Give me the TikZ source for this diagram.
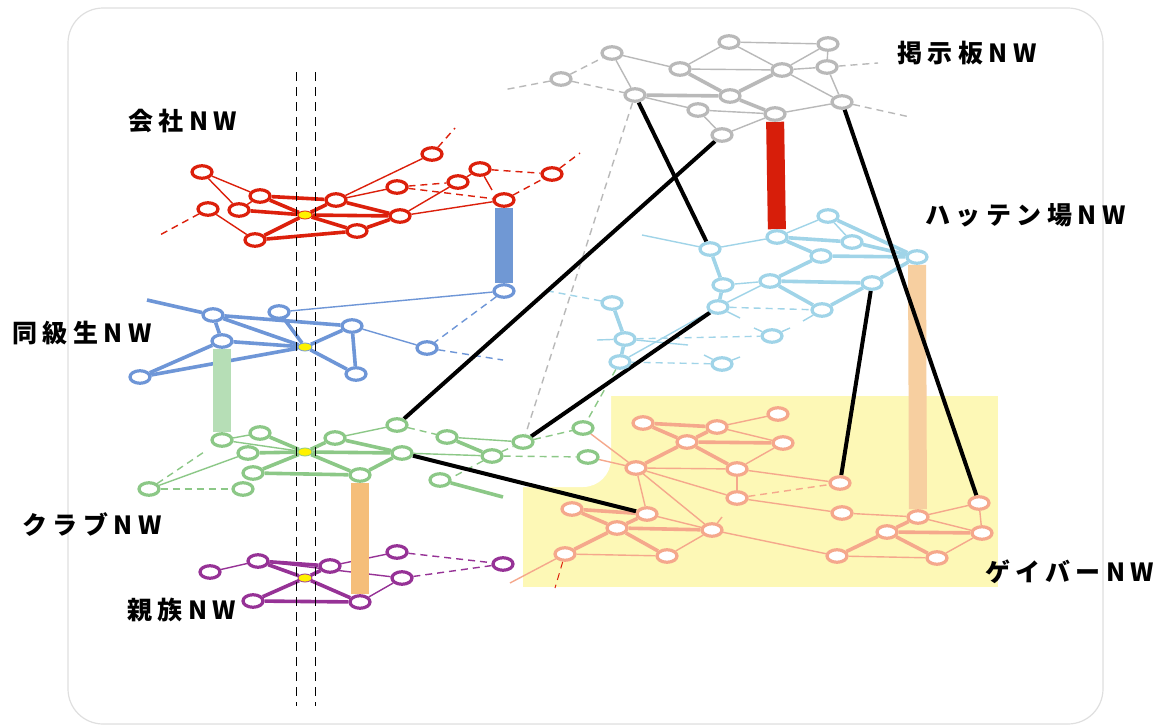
\documentclass[tikz,border=0pt]{standalone}
\usepackage{fontspec}
\usetikzlibrary{shapes.geometric}
\newfontfamily\jp{Noto Sans CJK JP}[LetterSpace=22]
\definecolor{cRed}{RGB}{220,32,12}
\definecolor{cBlue}{RGB}{110,150,215}
\definecolor{cGreen}{RGB}{140,200,135}
\definecolor{cPurple}{RGB}{150,50,150}
\definecolor{cGray}{RGB}{185,185,185}
\definecolor{cCyan}{RGB}{160,212,232}
\definecolor{cSalmon}{RGB}{245,168,140}
\definecolor{cYellow}{RGB}{253,248,182}
\definecolor{pBlue}{RGB}{112,152,212}
\definecolor{pGreen}{RGB}{182,222,182}
\definecolor{pOrange}{RGB}{245,190,122}
\definecolor{pRed}{RGB}{215,30,10}
\definecolor{pPeach}{RGB}{247,207,160}
\pgfdeclarelayer{back}
\pgfdeclarelayer{links}
\pgfsetlayers{back,links,main}
\tikzset{
  nd/.style={ellipse, draw=#1, fill=white, line width=3.2pt,
    minimum width=20pt, minimum height=12.5pt, inner sep=0pt},
  ctr/.style={ellipse, fill=yellow, draw=#1, line width=0.8pt,
    minimum width=14pt, minimum height=8pt, inner sep=0pt},
  thk/.style={line width=3.6pt},
  thn/.style={line width=1.4pt},
  dsh/.style={line width=1.4pt, dash pattern=on 7pt off 5pt},
  blk/.style={line width=4pt, black},
  pillar/.style={line width=18pt, draw=#1},
  lbl/.style={font=\jp\bfseries\fontsize{25}{29}\selectfont, anchor=west, inner sep=0pt},
}
\begin{document}
\begin{tikzpicture}[x=1pt, y=-1pt]
\useasboundingbox (0,0) rectangle (1163,726);

% frame and yellow area
\begin{pgfonlayer}{back}
  \draw[gray!25, line width=1.2pt, fill=white, rounded corners=35pt] (68,8) rectangle (1103,724);
  \fill[cYellow] (523,396) rectangle (998,587);
  \fill[white, rounded corners=28pt] (470,350) rectangle (611,487);
\end{pgfonlayer}

% ---------- red network ----------
\foreach \n/\x/\y in {r1/202/172, r2/208/209, r3/239/210, r4/260/196, r5/255/240,
  r6/336/200, r7/357/231, r8/400/216, r9/397/187, r10/432/154, r11/458/182,
  r12/480/169, r13/552/174, r14/504/200}
  \node[nd=cRed] (\n) at (\x,\y) {};
\node[ctr=cRed] (rc) at (305,215) {};
\coordinate (re1) at (580,153);
\coordinate (re2) at (455,128);
\coordinate (re3) at (158,236);
\coordinate (re4) at (492,190);

% ---------- blue network ----------
\foreach \n/\x/\y in {b1/140/377, b2/213/315, b3/222/341, b4/279/312, b5/352/326,
  b6/356/374, b7/427/348, b8/504/291}
  \node[nd=cBlue] (\n) at (\x,\y) {};
\node[ctr=cBlue] (bc) at (305,347) {};
\coordinate (be1) at (147,300);
\coordinate (be2) at (503,360);

% ---------- green network ----------
\foreach \n/\x/\y in {g1/149/489, g2/222/440, g3/260/433, g4/248/453, g5/253/473,
  g6/243/489, g7/335/438, g8/360/475, g9/402/453, g10/397/425, g11/447/437,
  g12/492/456, g13/523/442, g14/583/428, g15/588/457, g16/440/480}
  \node[nd=cGreen] (\n) at (\x,\y) {};
\node[ctr=cGreen] (gc) at (305,452) {};
\coordinate (ge1) at (503,497);
\coordinate (ge2) at (453,477);
\coordinate (ge3) at (207,450);

% ---------- purple network ----------
\foreach \n/\x/\y in {p1/210/572, p2/258/561, p3/330/566, p4/253/601, p5/360/602,
  p6/397/552, p7/402/578, p8/503/564}
  \node[nd=cPurple] (\n) at (\x,\y) {};
\node[ctr=cPurple] (pc) at (305,578) {};

% ---------- gray network ----------
\foreach \n/\x/\y in {k1/561/79, k2/612/53, k3/635/95, k4/680/69, k5/729/42,
  k6/730/96, k7/698/110, k8/775/114, k9/782/70, k10/722/135, k11/828/44,
  k12/827/67, k13/842/102}
  \node[nd=cGray] (\n) at (\x,\y) {};
\coordinate (ke1) at (503,90);
\coordinate (ke2) at (878,63);
\coordinate (ke3) at (910,117);

% ---------- light blue network ----------
\foreach \n/\x/\y in {h1/710/249, h2/777/237, h3/828/216, h4/852/242, h5/821/256,
  h6/917/257, h7/723/285, h8/770/281, h9/872/283, h10/718/307, h11/822/310,
  h12/612/303, h13/625/339, h14/620/362, h15/772/336, h16/722/364}
  \node[nd=cCyan] (\n) at (\x,\y) {};
\coordinate (he1) at (642,235);
\coordinate (he2) at (597,340);
\coordinate (he3) at (543,290);
\coordinate (he4) at (740,318);
\coordinate (he5) at (803,321);
\coordinate (he6) at (754,328);
\coordinate (he7) at (790,328);
\coordinate (he8) at (704,355);
\coordinate (he9) at (740,357);
\coordinate (he10) at (688,345);

% ---------- salmon network ----------
\foreach \n/\x/\y in {s1/643/423, s2/717/427, s3/778/414, s4/687/442, s5/783/443,
  s6/636/468, s7/737/469, s8/840/483, s9/737/498, s10/572/509, s11/647/514,
  s12/617/528, s13/712/530, s14/565/554, s15/667/556, s16/842/513, s17/918/517,
  s18/979/503, s19/887/532, s20/982/533, s21/837/556, s22/937/558}
  \node[nd=cSalmon] (\n) at (\x,\y) {};
\coordinate (se1) at (510,583);
\coordinate (se2) at (555,588);
\coordinate (se3) at (722,517);

\begin{pgfonlayer}{links}
  % red
  \foreach \a/\b in {r4/r6, r4/rc, r3/rc, r5/rc, r6/rc, r8/rc, r7/rc, r5/r7, r6/r8, r7/r8}
    \draw[thk, cRed] (\a) -- (\b);
  \foreach \a/\b in {r1/r4, r1/r3, r3/r4, r2/r5, r6/r10, r6/r9, r8/r11, r8/r14, r12/r11, r12/re4}
    \draw[thn, cRed] (\a) -- (\b);
  \foreach \a/\b in {r9/r11, r9/r14, r12/r13, r14/r13, r13/re1, r10/re2, r2/re3}
    \draw[dsh, cRed] (\a) -- (\b);
  % blue
  \foreach \a/\b in {be1/b2, b2/b5, b2/bc, b2/b3, b3/bc, b1/b3, b1/bc, b4/bc, b5/bc, b6/bc, b5/b6}
    \draw[thk, cBlue] (\a) -- (\b);
  \foreach \a/\b in {b4/b8, b5/b7}
    \draw[thn, cBlue] (\a) -- (\b);
  \foreach \a/\b in {b8/b7, b7/be2}
    \draw[dsh, cBlue] (\a) -- (\b);
  % green
  \foreach \a/\b in {gc/g3, gc/g4, gc/g7, gc/g9, gc/g8, gc/g5, g5/g8, g7/g9, g8/g9, g11/g12, g16/ge1}
    \draw[thk, cGreen] (\a) -- (\b);
  \foreach \a/\b in {g2/g3, g2/gc, g1/g4, g7/g10, g9/g12, g11/g13}
    \draw[thn, cGreen] (\a) -- (\b);
  \foreach \a/\b in {g1/g6, g1/ge3, g10/g11, g12/g13, g13/g14, g12/g15, g12/ge2, h14/g14}
    \draw[dsh, cGreen] (\a) -- (\b);
  % purple
  \foreach \a/\b in {p2/p3, p2/pc, p3/pc, pc/p4, pc/p5, p4/p5}
    \draw[thk, cPurple] (\a) -- (\b);
  \foreach \a/\b in {p1/p2, p2/p7, p3/p6, p5/p7}
    \draw[thn, cPurple] (\a) -- (\b);
  \foreach \a/\b in {p6/p8, p7/p8}
    \draw[dsh, cPurple] (\a) -- (\b);
  % gray
  \foreach \a/\b in {k3/k6, k4/k6, k6/k9, k6/k8}
    \draw[thk, cGray] (\a) -- (\b);
  \foreach \a/\b in {k2/k3, k2/k4, k3/k7, k4/k5, k4/k9, k5/k11, k5/k9, k9/k11, k9/k12,
      k9/k13, k11/k12, k12/k13, k8/k13, k7/k8, k7/k10, k10/k8}
    \draw[thn, cGray] (\a) -- (\b);
  \foreach \a/\b in {k1/k2, k1/ke1, k1/k3, k12/ke2, k13/ke3, k3/g13}
    \draw[dsh, cGray] (\a) -- (\b);
  % light blue
  \foreach \a/\b in {h2/h4, h2/h5, h3/h6, h4/h6, h5/h6, h5/h8, h8/h9, h8/h11, h9/h6,
      h11/h9, h1/h7, h7/h10, h12/h13, h13/h14}
    \draw[thk, cCyan] (\a) -- (\b);
  \foreach \a/\b in {h1/h2, h1/he1, h7/h8, h10/h8, h14/h10, h13/he2, h2/h3, h3/h4,
      h10/he4, h11/he5, h15/he6, h15/he7, h16/he8, h16/he9, h13/he10}
    \draw[thn, cCyan] (\a) -- (\b);
  \foreach \a/\b in {h10/h11, h13/h15, h14/h16, h12/he3}
    \draw[dsh, cCyan] (\a) -- (\b);
  % salmon
  \foreach \a/\b in {s1/s2, s2/s4, s1/s4, s4/s5, s4/s6, s4/s7, s10/s11, s10/s12,
      s11/s12, s12/s13, s12/s14, s12/s15, s17/s19, s19/s21, s19/s22, s19/s20}
    \draw[thk, cSalmon] (\a) -- (\b);
  \foreach \a/\b in {s2/s3, s2/s5, s5/s7, s6/s7, s6/s9, s7/s9, s7/s8, s6/s11, s6/s13,
      s9/s16, s16/s17, s13/s21, s14/s15, s13/s15, s11/s13, s17/s18, s17/s20, s18/s20,
      s20/s22, s21/s22, s14/se1, g14/s6, g15/s6, s13/se3}
    \draw[thn, cSalmon] (\a) -- (\b);
  \draw[dsh, cSalmon] (s9) -- (s8);
  \draw[dsh, cRed, line width=1pt] (s14) -- (se2);

  % vertical guide lines
  \coordinate (vt1) at (296,72);
  \coordinate (vb1) at (296,706);
  \coordinate (vt2) at (315,72);
  \coordinate (vb2) at (315,706);
  \draw[black, line width=1pt, dash pattern=on 9pt off 6pt] (vt1) -- (vb1);
  \draw[black, line width=1pt, dash pattern=on 9pt off 6pt] (vt2) -- (vb2);

  % pillars between layers
  \draw[pillar=pBlue] (r14) -- (b8);
  \draw[pillar=pGreen] (b3) -- (g2);
  \draw[pillar=pOrange] (g8) -- (p5);
  \draw[pillar=pRed] (k8) -- (h2);
  \draw[pillar=pPeach] (h6) -- (s17);

  % black cross-links
  \draw[blk] (k3) -- (h1);
  \draw[blk] (k10) -- (g10);
  \draw[blk] (k13) -- (s18);
  \draw[blk] (h10) -- (g13);
  \draw[blk] (h9) -- (s8);
  \draw[blk] (g9) -- (s11);
\end{pgfonlayer}

% labels
\node[lbl] (t1) at (128,121) {会社NW};
\node[lbl] (t2) at (12,333) {同級生NW};
\node[lbl] (t3) at (22,525) {クラブNW};
\node[lbl] (t4) at (127,610) {親族NW};
\node[lbl] (t5) at (897,53) {掲示板NW};
\node[lbl] (t6) at (925,215) {ハッテン場NW};
\node[lbl] (t7) at (985,572) {ゲイバーNW};
\end{tikzpicture}
\end{document}
